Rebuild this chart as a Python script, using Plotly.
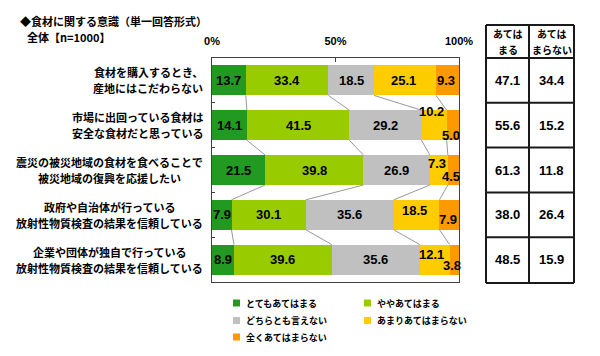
import plotly.graph_objects as go

# ---------------- data ----------------
categories = [
    "食材を購入するとき、<br>産地にはこだわらない",
    "市場に出回っている食材は<br>安全な食材だと思っている",
    "震災の被災地域の食材を食べることで<br>被災地域の復興を応援したい",
    "政府や自治体が行っている<br>放射性物質検査の結果を信頼している",
    "企業や団体が独自で行っている<br>放射性物質検査の結果を信頼している",
]
series_names = ["とてもあてはまる", "ややあてはまる", "どちらとも言えない",
                "あまりあてはまらない", "全くあてはまらない"]
very_much = [13.7, 14.1, 21.5, 7.9, 8.9]
somewhat = [33.4, 41.5, 39.8, 30.1, 39.6]
neutral = [18.5, 29.2, 26.9, 35.6, 35.6]
not_much = [25.1, 10.2, 7.3, 18.5, 12.1]
not_at_all = [9.3, 5.0, 4.5, 7.9, 3.8]
applies_total = [47.1, 55.6, 61.3, 38.0, 48.5]
not_applies_total = [34.4, 15.2, 11.8, 26.4, 15.9]
table_header_lines = [["あては", "まる"], ["あては", "まらない"]]
x_tick_values = [0, 50, 100]
x_tick_labels = ["0%", "50%", "100%"]
title_line1 = "◆食材に関する意識（単一回答形式）"
title_line2 = "全体【n=1000】"

# ---------------- style ----------------
colors = ["#229a22", "#99cc00", "#c0c0c0", "#ffcc00", "#ff9900"]
JP = "Noto Sans CJK JP"
NUM = "Liberation Sans"
W, H = 600, 356
L, R, T, B = 212, 141, 58, 74
PW, PH = W - L - R, H - T - B
BARGAP = 0.33
# per-label pixel offsets (series index, row index) -> (dx, dy)
label_offsets = {
    (3, 0): (-2, 0), (4, 0): (-2, 0),
    (3, 1): (-3, 14), (4, 1): (-2, -10),
    (3, 2): (-2, 7), (4, 2): (-2, -6),
    (3, 3): (-2, 4), (4, 3): (-1, -5),
    (3, 4): (-3, 5.5), (4, 4): (-2.5, -5.5),
}
NUM_FONT = dict(family=NUM, size=13, color="#000", weight="bold")


def px_x(px):
    return (px - L) / PW


def px_y(py):
    return (H - B - py) / PH


series = [very_much, somewhat, neutral, not_much, not_at_all]
rows = list(range(len(categories)))

fig = go.Figure()
for name, vals, col in zip(series_names, series, colors):
    fig.add_trace(go.Bar(x=vals, y=rows, orientation="h", name=name,
                         marker=dict(color=col, line=dict(width=0)),
                         showlegend=False, hoverinfo="skip"))

# cumulative sums
cums = []
run = [0.0] * len(rows)
for vals in series:
    run = [a + b for a, b in zip(run, vals)]
    cums.append(run[:])

# series (connector) lines
half = (1 - BARGAP) / 2
for k in range(len(series) - 1):
    xs, ys = [], []
    for i in range(len(rows) - 1):
        xs += [cums[k][i], cums[k][i + 1], None]
        ys += [i + half, i + 1 - half, None]
    fig.add_trace(go.Scatter(x=xs, y=ys, mode="lines",
                             line=dict(color="#999999", width=1),
                             showlegend=False, hoverinfo="skip"))

annotations = []
# data labels
for s, vals in enumerate(series):
    for i, v in enumerate(vals):
        start = cums[s][i] - v
        dx, dy = label_offsets.get((s, i), (0, 0))
        annotations.append(dict(x=start + v / 2, y=i, xref="x", yref="y",
                                text=f"{v:.1f}", showarrow=False,
                                xanchor="center", yanchor="middle",
                                xshift=dx, yshift=dy, font=NUM_FONT))

# category labels (two centred lines, right edge 9px left of the plot)
for i, c in enumerate(categories):
    lines = c.split("<br>")
    widths = [sum(1.0 if ord(ch) > 255 else 0.55 for ch in ln) * 11 for ln in lines]
    wmax = max(widths)
    for j, line in enumerate(lines):
        annotations.append(dict(x=0, y=i, xref="paper", yref="y", text=line,
                                showarrow=False, xanchor="center",
                                yanchor="middle",
                                xshift=-9 - wmax / 2, yshift=8 - 16 * j,
                                font=dict(family=JP, size=11, color="#000",
                                          weight="bold")))

# titles
annotations.append(dict(x=px_x(18), y=px_y(21.5), xref="paper", yref="paper",
                        text=title_line1, showarrow=False, xanchor="left",
                        yanchor="middle",
                        font=dict(family=JP, size=11, color="#000", weight="bold")))
annotations.append(dict(x=px_x(25), y=px_y(37.5), xref="paper", yref="paper",
                        text=title_line2, showarrow=False, xanchor="left",
                        yanchor="middle",
                        font=dict(family=JP, size=11, color="#000", weight="bold")))

# table
col_x = [px_x(507.5), px_x(551.5)]
for cx, lines in zip(col_x, table_header_lines):
    for line, ly in zip(lines, [33, 50]):
        annotations.append(dict(x=cx, y=px_y(ly), xref="paper", yref="paper",
                                text=line, showarrow=False,
                                xanchor="center", yanchor="middle",
                                font=dict(family=JP, size=10, color="#000",
                                          weight="bold")))
for cx, vals in zip(col_x, [applies_total, not_applies_total]):
    for i, v in enumerate(vals):
        annotations.append(dict(x=cx, y=i, xref="paper", yref="y",
                                text=f"{v:.1f}", showarrow=False,
                                xanchor="center", yanchor="middle",
                                font=NUM_FONT))

shapes = []
tx = [px_x(486), px_x(529), px_x(574)]
ty_top, ty_bot = px_y(25), px_y(283)
for x in tx:
    shapes.append(dict(type="line", xref="paper", yref="paper", x0=x, x1=x,
                       y0=ty_bot, y1=ty_top, line=dict(color="#1a1a1a", width=2)))
n = len(rows)
for yy in [ty_top] + [1 - k / n for k in range(n)] + [ty_bot]:
    shapes.append(dict(type="line", xref="paper", yref="paper", x0=tx[0],
                       x1=tx[-1], y0=yy, y1=yy,
                       line=dict(color="#1a1a1a", width=2)))

# manual legend
leg_pos = [(236.5, 303), (367.5, 303), (236.5, 320.5), (367.5, 320.5), (236.5, 337)]
for (mx, my), name, col in zip(leg_pos, series_names, colors):
    shapes.append(dict(type="rect", xref="paper", yref="paper",
                       xsizemode="pixel", ysizemode="pixel",
                       xanchor=px_x(mx), yanchor=px_y(my),
                       x0=-3.5, x1=3.5, y0=-3.5, y1=3.5,
                       fillcolor=col, line=dict(width=0)))
    annotations.append(dict(x=px_x(mx + 7), y=px_y(my), xref="paper", yref="paper",
                            text=name, showarrow=False, xanchor="left",
                            yanchor="middle",
                            font=dict(family=JP, size=9, color="#000",
                                      weight="bold")))

fig.update_layout(
    width=W, height=H,
    margin=dict(l=L, r=R, t=T, b=B, autoexpand=False),
    barmode="stack", bargap=BARGAP,
    plot_bgcolor="white", paper_bgcolor="white",
    annotations=annotations, shapes=shapes,
    showlegend=False,
)
fig.update_xaxes(range=[0, 100], side="top", tickvals=x_tick_values,
                 ticktext=x_tick_labels, ticks="inside", ticklen=4,
                 tickcolor="#404040", showgrid=False, zeroline=False,
                 showline=True, mirror=True, linecolor="#404040", linewidth=1,
                 ticklabelstandoff=8,
                 tickfont=dict(family=NUM, size=11, color="#000", weight="bold"),
                 fixedrange=True)
fig.update_yaxes(range=[len(rows) - 0.5, -0.5], tickvals=[k + 0.5 for k in range(len(rows) - 1)],
                 showticklabels=False, ticks="inside", ticklen=3,
                 tickcolor="#404040", showgrid=False, zeroline=False,
                 showline=True, mirror=True, linecolor="#404040", linewidth=1,
                 fixedrange=True)

fig.write_html("out.html", config={"displayModeBar": False},
               post_script="document.body.style.margin='0';document.body.style.overflow='hidden';")
